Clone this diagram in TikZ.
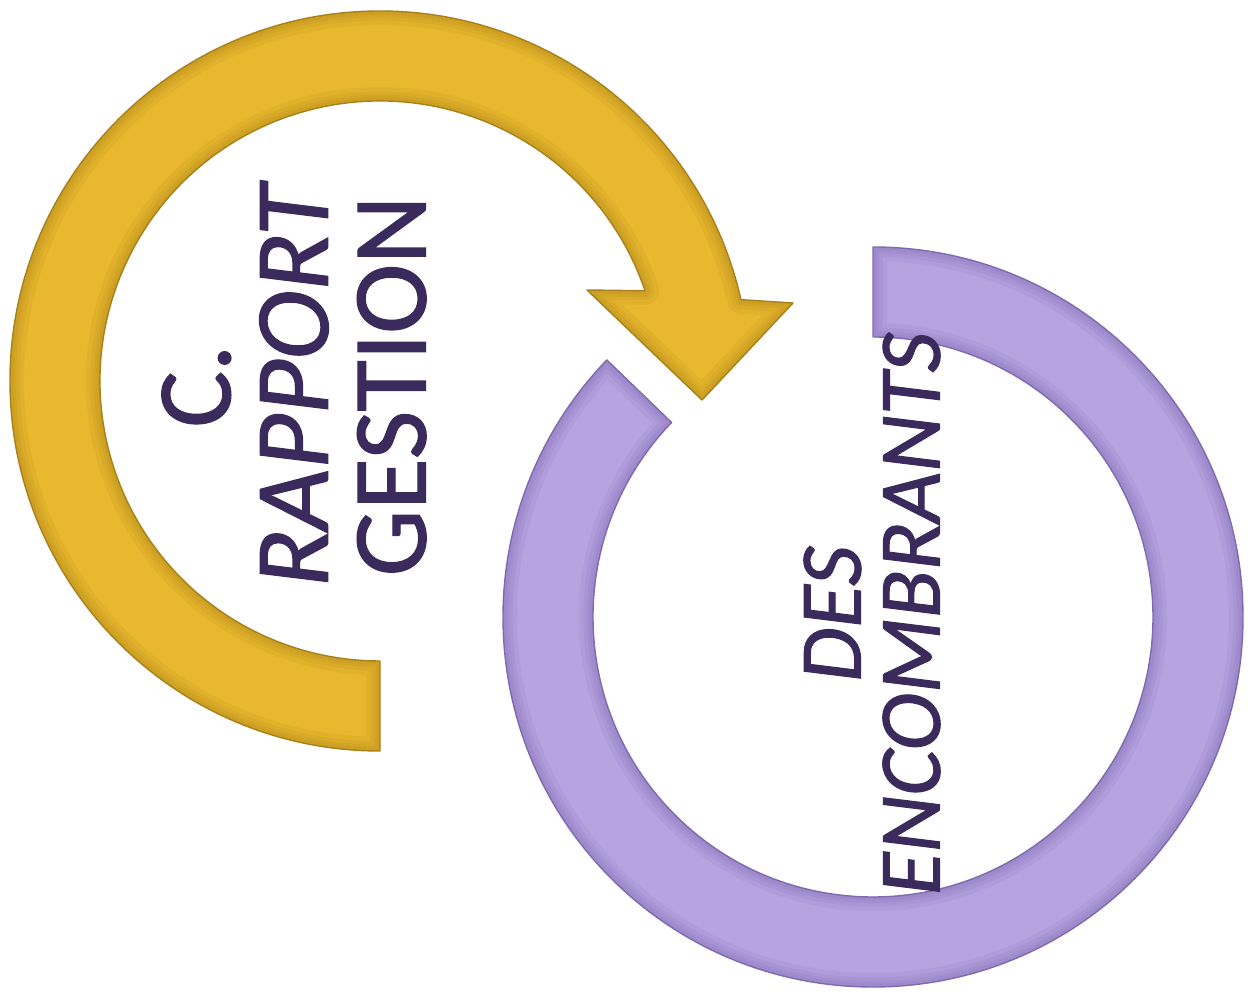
\documentclass[tikz,border=0pt]{standalone}
\usepackage{fontspec}
\setmainfont{Carlito}[FakeBold=1.2]
\usetikzlibrary{calc}
\definecolor{ringyellow}{HTML}{E8B92E}
\definecolor{ringyellowdark}{HTML}{A8801A}
\definecolor{ringpurple}{HTML}{B7A3E0}
\definecolor{ringpurpledark}{HTML}{7E6AB0}
\definecolor{textpurple}{HTML}{3B2A5C}
% outlines of the two rings
\newcommand\yellowring{($(yc)+(270:370)$) arc[start angle=270, end angle=12.7, radius=370]
    -- (793,691) -- (702,594) -- (587,704)
    -- ($(yc)+(18.8:280)$) arc[start angle=18.8, end angle=270, radius=280] -- cycle}
\newcommand\purplering{($(pc)+(90:370)$) arc[start angle=90, end angle=-224, radius=370]
    -- ($(pc)+(-224:280)$) arc[start angle=-224, end angle=90, radius=280] -- cycle}
\begin{document}
\begin{tikzpicture} [
            x=0.02cm, y=0.02cm,
            ring/.style={line width=0.8pt, line join=round},
            bevel/.style={line join=round, opacity=0.12},
            ringtext/.style={rotate=90, align=center, text=textpurple, inner sep=0pt},
        ]
        \useasboundingbox (0,0) rectangle (1252,994);
        \coordinate (yc) at (380,613);
        \coordinate (pc) at (873,377);
        % yellow arrow
        \fill[ringyellow] \yellowring;
        \begin{scope}
            \clip \yellowring;
            \foreach \w in {16,11,7,4}
                \draw[bevel, ringyellowdark, line width=\w pt] \yellowring;
        \end{scope}
        \draw[ring, ringyellowdark] \yellowring;
        % purple ring
        \fill[ringpurple] \purplering;
        \begin{scope}
            \clip \purplering;
            \foreach \w in {16,11,7,4}
                \draw[bevel, ringpurpledark, line width=\w pt] \purplering;
        \end{scope}
        \draw[ring, ringpurpledark] \purplering;
        % texts
        \node[ringtext, font=\fontsize{60}{55.6}\selectfont] (gestion) at (294,608)
            {C.\\{\itshape RAPPORT}\\GESTION};
        \node[ringtext, font=\fontsize{50}{45}\selectfont\itshape] (encombrants) at (872,380)
            {DES\\ENCOMBRANTS};
    \end{tikzpicture}
\end{document}
